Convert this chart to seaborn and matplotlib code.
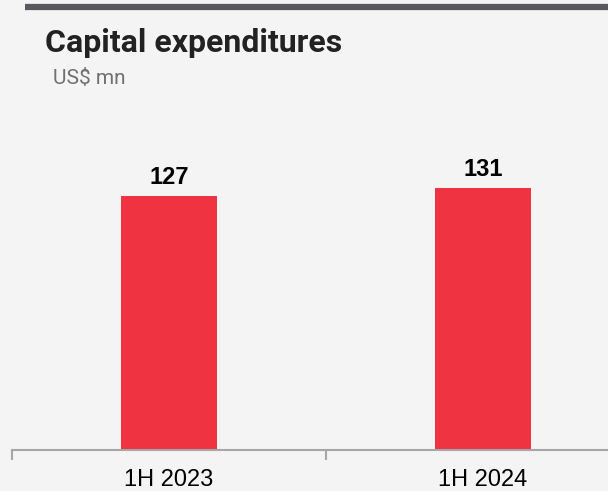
import pandas as pd
import numpy as np
import matplotlib.pyplot as plt
import seaborn as sns
from matplotlib.lines import Line2D

sns.set_style('white')
plt.rcParams['font.family'] = ['Liberation Sans', 'DejaVu Sans']

periods = ['1H 2023', '1H 2024']
capex = [127, 131]

bg = '#f4f4f4'
red = '#ef3340'

fig = plt.figure(figsize=(6.08, 4.91), dpi=100, facecolor=bg)
ax = fig.add_axes([12 / 608, 41 / 491, 1 - 12 / 608, 0.712])
ax.set_facecolor(bg)

df = pd.DataFrame({'period': periods, 'capex': capex})
b = sns.barplot(data=df, x='period', y='capex', color=red, saturation=1,
                width=0.306, ax=ax, linewidth=0)

for i, v in enumerate(capex):
    b.annotate(str(v), (i, v), xytext=(0, 5), textcoords='offset points',
               ha='center', va='bottom', fontsize=17, fontweight='bold', color='black')

b.set_ylim(0, 175)
b.set_xlabel('')
b.set_ylabel('')
b.set_yticks([])
b.set_xticks([0, 1])
b.set_xticks([-0.5, 0.5, 1.5], minor=True)
b.tick_params(axis='x', which='minor', bottom=True, length=7, width=1.5,
              color='#a6a6a6', direction='out')
b.tick_params(axis='x', which='major', bottom=True, length=0, pad=14,
              labelsize=17, labelcolor='black')
for s in ['top', 'left', 'right']:
    b.spines[s].set_visible(False)
b.spines['bottom'].set_color('#a6a6a6')
b.spines['bottom'].set_linewidth(1.5)
b.set_autoscalex_on(False)
b.set_xlim(-0.5, 0.5 + 282 / 314, auto=False)

# header line and titles
fig.add_artist(Line2D([25 / 608, 1], [1 - 7 / 491, 1 - 7 / 491], color='#58585e',
                      linewidth=4.5, solid_capstyle='butt', transform=fig.transFigure))
fig.text(45 / 608, 1 - 43 / 491, 'Capital expenditures', fontsize=23, fontweight='bold',
         family='Roboto', color='#222222', va='center', ha='left')
fig.text(53 / 608, 1 - 78 / 491, 'US$ mn', fontsize=15, family='Roboto',
         color='#707070', va='center', ha='left')

plt.savefig('out.png', dpi=100, facecolor=bg)
